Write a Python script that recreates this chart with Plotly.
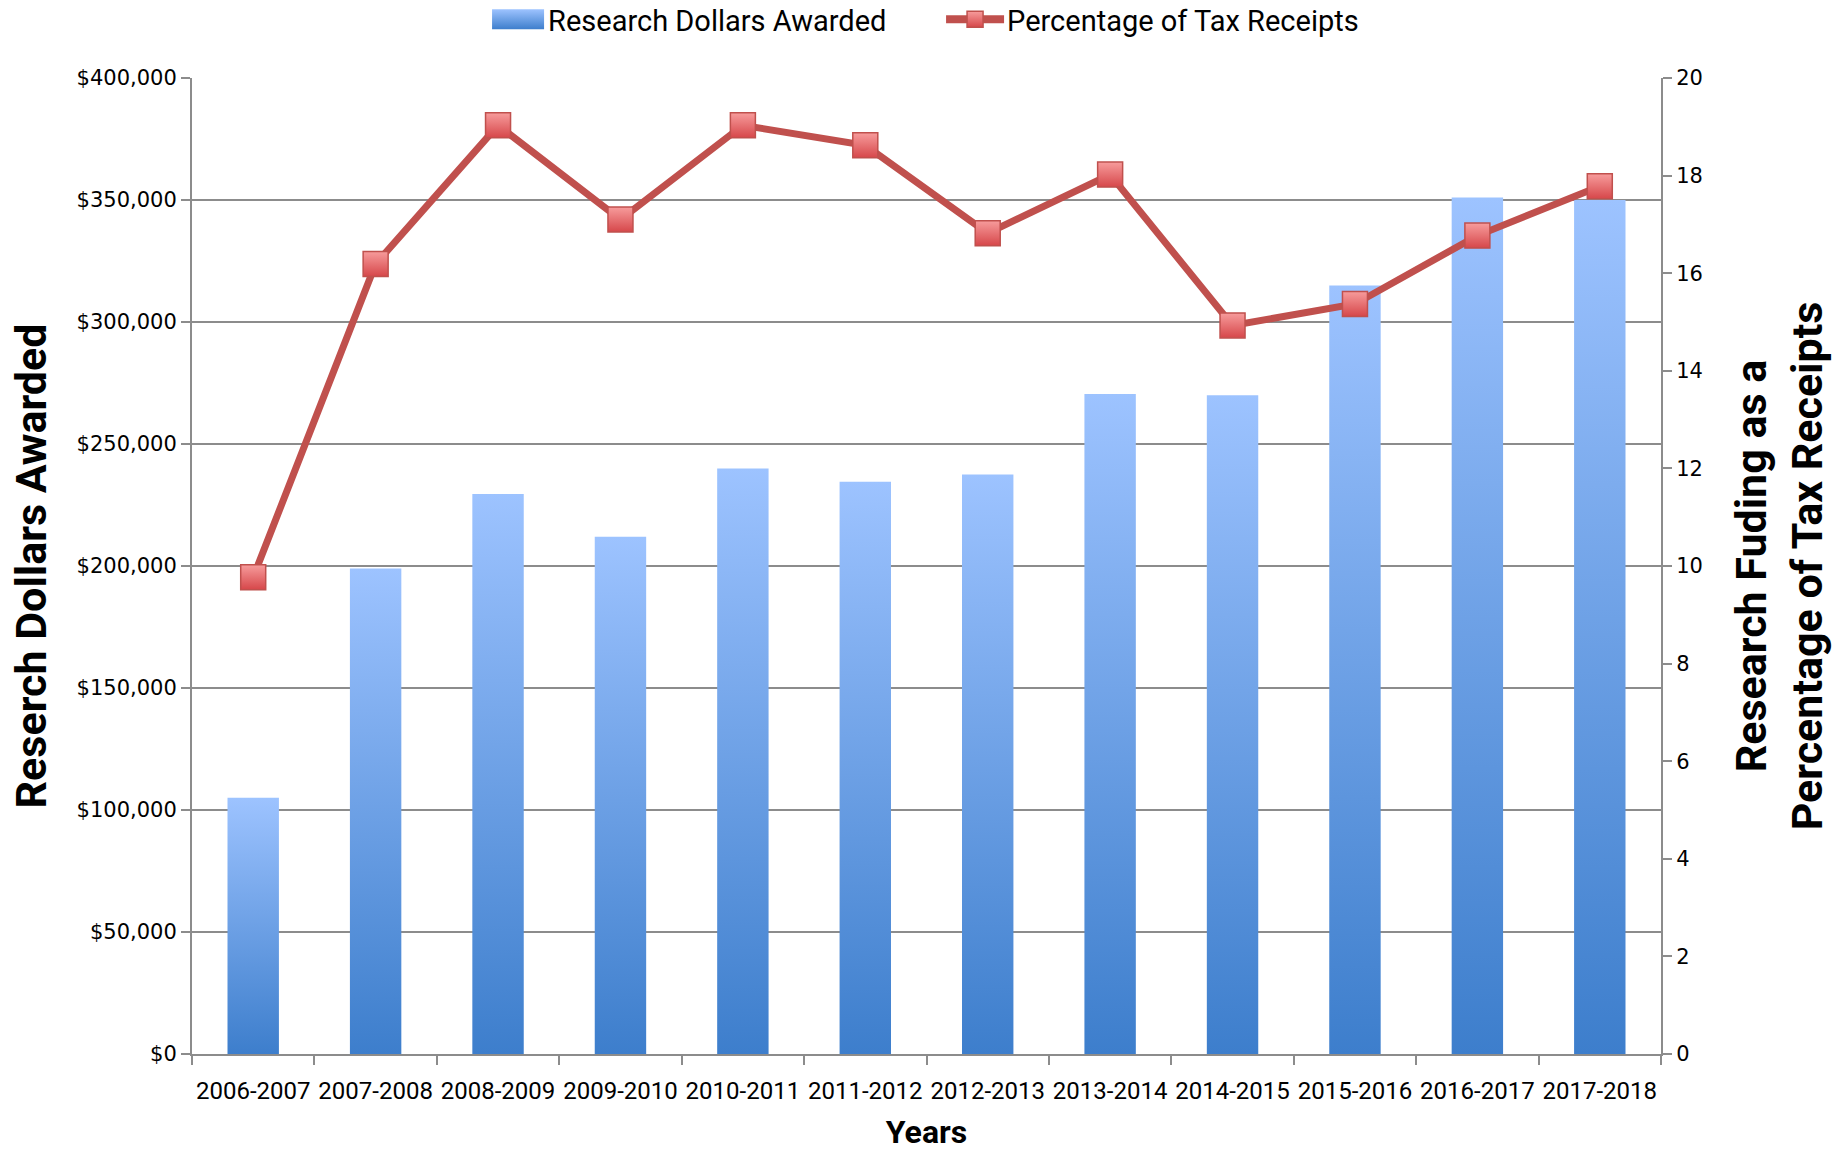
import plotly.graph_objects as go

categories = ["2006-2007", "2007-2008", "2008-2009", "2009-2010", "2010-2011", "2011-2012",
              "2012-2013", "2013-2014", "2014-2015", "2015-2016", "2016-2017", "2017-2018"]
research_dollars = [105000, 199000, 229500, 212000, 240000, 234500,
                    237500, 270500, 270000, 315000, 351000, 350000]
pct_tax_receipts = [9.77, 16.19, 19.03, 17.1, 19.03, 18.62,
                    16.82, 18.02, 14.93, 15.37, 16.77, 17.78]

BAR_W = 0.42
GRID = "#8C8C8C"
LABEL_FONT = "Roboto, Open Sans, sans-serif"
NUM_FONT = "DejaVu Sans, Verdana, sans-serif"

fig = go.Figure()
for i, v in enumerate(research_dollars):
    xs = [i - BAR_W / 2, i + BAR_W / 2, i + BAR_W / 2, i - BAR_W / 2, i - BAR_W / 2]
    ys = [0, 0, v, v, 0]
    fig.add_trace(go.Scatter(
        x=xs, y=ys, fill="toself", mode="none",
        fillgradient=dict(type="vertical", colorscale=[[0, "#3D7ECC"], [1, "#9DC3FF"]]),
        name="Research Dollars Awarded", legendgroup="bars", showlegend=(i == 0),
        hoverinfo="skip"))

fig.add_trace(go.Scatter(
    x=list(range(len(categories))), y=pct_tax_receipts, yaxis="y2",
    mode="lines+markers", name="Percentage of Tax Receipts",
    line=dict(color="#C0504D", width=7),
    marker=dict(symbol="square", size=25, color="#F79C9C",
                gradient=dict(type="vertical", color="#D6474A"),
                line=dict(color="#C0504D", width=1.5))))

fig.update_layout(
    width=1847, height=1151,
    margin=dict(l=192, r=186, t=78, b=97, autoexpand=False),
    plot_bgcolor="white", paper_bgcolor="white",
    font=dict(family=LABEL_FONT, color="black"),
    showlegend=True,
    legend=dict(orientation="h", x=0.514, xanchor="center", y=1.06, yanchor="middle",
                font=dict(family=LABEL_FONT, size=29), traceorder="normal",
                itemwidth=50, entrywidth=394, entrywidthmode="pixels"),
    xaxis=dict(
        range=[-0.5, len(categories) - 0.5],
        tickmode="array", tickvals=list(range(len(categories))), ticktext=categories,
        ticks="", showgrid=False, zeroline=False, tickangle=0, automargin=False,
        showline=True, linecolor=GRID, linewidth=2, ticklabelstandoff=14,
        tickfont=dict(family=LABEL_FONT, size=24),
        minor=dict(tickmode="array", tickvals=[k - 0.5 for k in range(len(categories) + 1)],
                   ticks="outside", ticklen=9, tickcolor=GRID, tickwidth=1.5, showgrid=False),
        title=dict(text="<b>Years</b>", font=dict(family=LABEL_FONT, size=32), standoff=25),
    ),
    yaxis=dict(
        range=[0, 400000], dtick=50000, tickformat=",.0f", tickprefix="$",
        showgrid=True, gridcolor=GRID, gridwidth=1.5, zeroline=False, automargin=False,
        showline=True, linecolor=GRID, linewidth=2,
        ticks="outside", ticklen=9, tickcolor=GRID, tickwidth=1.5,
        tickfont=dict(family=NUM_FONT, size=21),
        title=dict(text="<b>Reserch Dollars Awarded</b>", font=dict(family=LABEL_FONT, size=43), standoff=17),
    ),
    yaxis2=dict(
        overlaying="y", side="right", range=[0, 20], dtick=2, automargin=False,
        showgrid=False, zeroline=False,
        showline=True, linecolor=GRID, linewidth=2,
        ticks="outside", ticklen=9, tickcolor=GRID, tickwidth=1.5,
        tickfont=dict(family=NUM_FONT, size=21),
        title=dict(text="<b>Research Fuding as a<br>Percentage of Tax Receipts</b>",
                   font=dict(family=LABEL_FONT, size=43), standoff=34),
    ),
)

post = """
document.body.style.margin='0';
try {
  var gd = document.getElementById('{plot_id}');
  var items = gd.querySelectorAll('.legend .traces');
  items.forEach(function (g) {
    var t = g.querySelector('.legendtext');
    if (!t) return;
    var tx = parseFloat(t.getAttribute('x')) || 40;
    var f = g.querySelector('.legendfill path');
    if (f && f.getAttribute('d')) {
      var r = tx - 4, w = 52;
      f.setAttribute('d', 'M' + (r - w) + ',-10h' + w + 'v20h-' + w + 'z');
    }
    var l = g.querySelector('.legendlines path');
    if (l && l.getAttribute('d')) {
      var r2 = tx - 3, w2 = 58;
      l.setAttribute('d', 'M' + (r2 - w2) + ',0h' + w2);
      l.style.strokeWidth = '8px';
      var pts = g.querySelectorAll('.legendpoints path');
      pts.forEach(function (p) {
        p.setAttribute('transform', 'translate(' + (r2 - w2 / 2) + ',0)');
      });
    }
  });
} catch (e) {}
"""

fig.write_html("out.html", config={"displayModeBar": False}, post_script=post)
